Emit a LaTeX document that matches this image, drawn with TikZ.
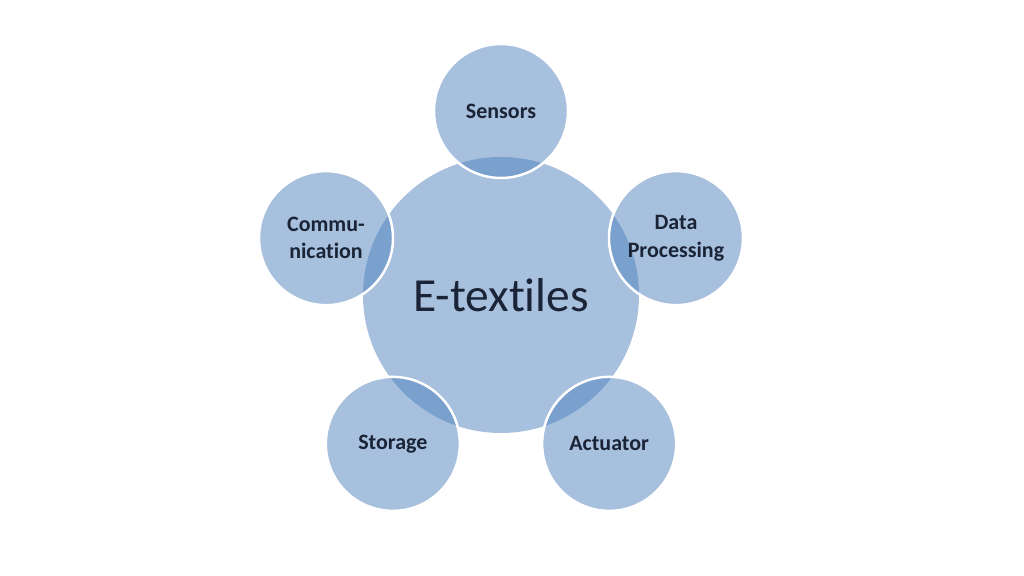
\documentclass[tikz,border=0pt]{standalone}
\usepackage{fontspec}
\setmainfont[Ligatures=NoCommon]{Carlito}
\usepackage{tikz}
\usetikzlibrary{positioning}

\begin{document}
\begin{tikzpicture}[x=1cm,y=1cm,
    every node/.style={circle, inner sep=0pt, text=textcol, align=center},
    hub/.style={minimum size=5.52cm, fill=boxblue, fill opacity=0.5, text opacity=1, font=\fontsize{27}{32}\selectfont},
    part/.style={minimum size=2.68cm, fill=boxblue, fill opacity=0.5, text opacity=1, draw=white, line width=1.4pt, font=\bfseries\fontsize{12.5}{15.5}\selectfont}]
            % colours
            \definecolor{boxblue}{HTML}{4F81BD}
            \definecolor{textcol}{HTML}{1B2436}
            \useasboundingbox (-10.02,-5.62) rectangle (10.46,5.90);
            \node[hub] (hub) at (0,0) {E-textiles};
            \node[part] (sens) at (90:3.68) {Sensors};
            \node[part] (data) at (18:3.68) {Data\\Processing};
            \node[part] (act) at (-54:3.68) {Actuator};
            \node[part] (stor) at (234:3.68) {Storage};
            \node[part] (comm) at (162:3.68) {Commu-\\nication};
        \end{tikzpicture}
\end{document}
